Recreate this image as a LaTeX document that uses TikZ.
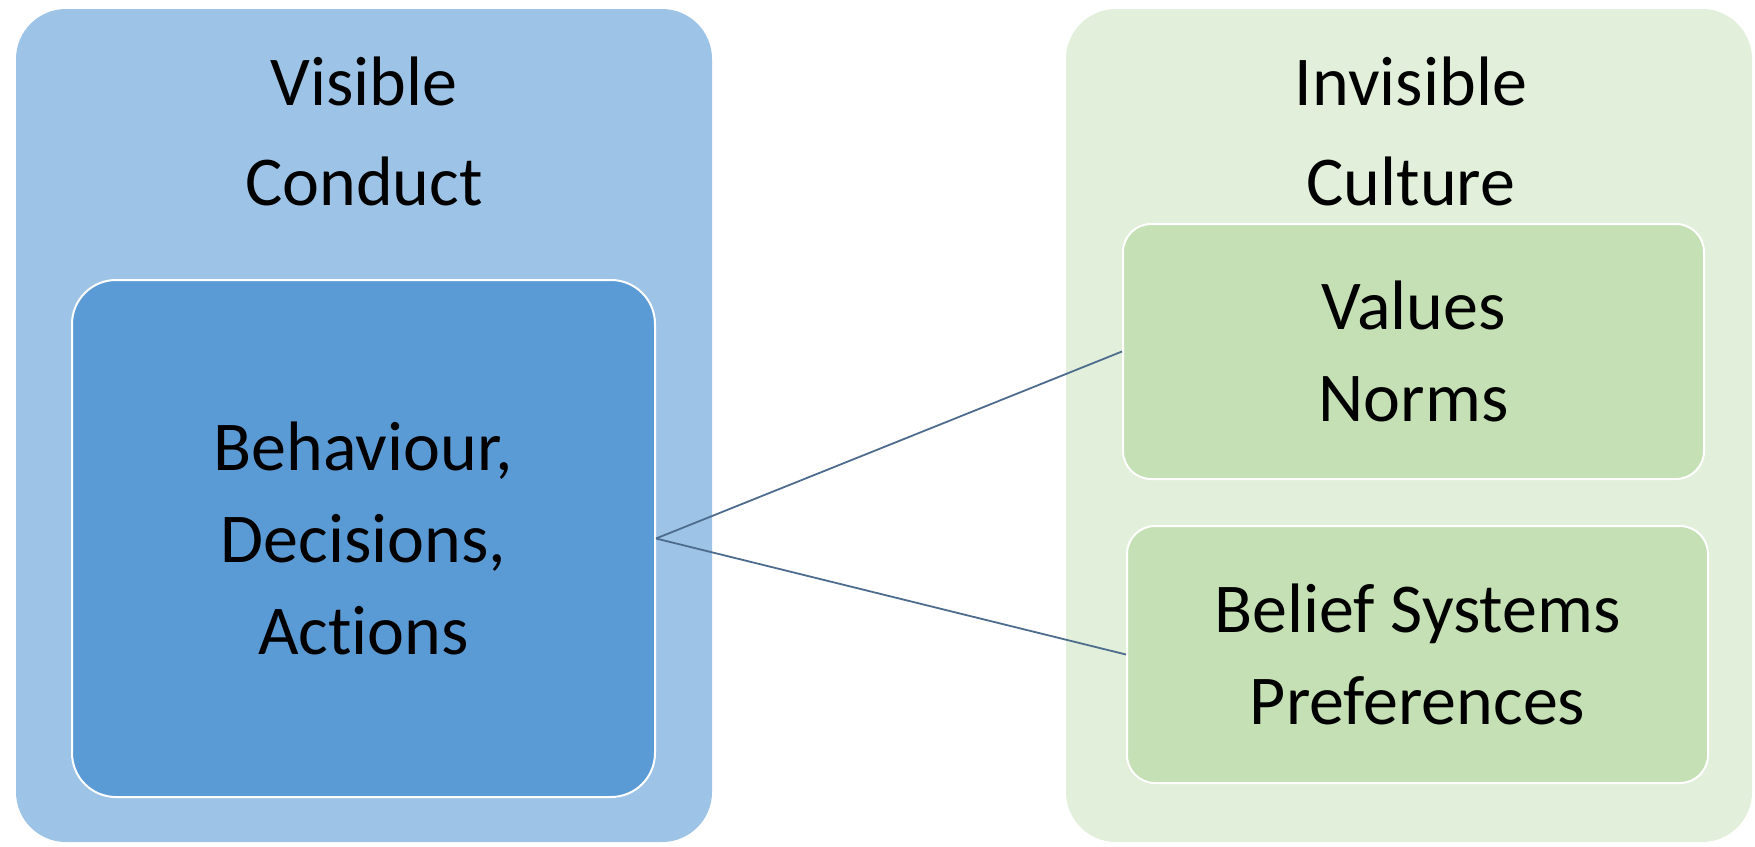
\documentclass[tikz,border=0pt]{standalone}
\usepackage{fontspec}
\setmainfont[Ligatures=NoCommon]{Carlito}
\definecolor{outerblue}{RGB}{157,195,230}
\definecolor{innerblue}{RGB}{91,155,213}
\definecolor{outergreen}{RGB}{226,239,218}
\definecolor{innergreen}{RGB}{197,224,180}
\definecolor{linkline}{RGB}{78,108,142}
\begin{document}
\begin{tikzpicture}[x=0.5pt, y=-0.5pt,
    outerbox/.style={rectangle, rounded corners=25pt, inner sep=0pt},
    innerbox/.style={rectangle, draw=white, line width=1pt, inner sep=0pt, align=center,
      font=\fontsize{35}{46}\selectfont},
    titletext/.style={align=center, font=\fontsize{35}{50}\selectfont},
    link/.style={draw=linkline, line width=0.9pt}]

    \useasboundingbox (0,0) rectangle (1755,846);

    % left side
    \node[outerbox, fill=outerblue, minimum width=348pt, minimum height=416.5pt] (visible) at (364,425.5) {};
    \node[titletext] (visibletitle) at (364,131) {Visible\\Conduct};
    \node[innerbox, fill=innerblue, rounded corners=22pt, minimum width=291.5pt, minimum height=258.5pt]
      (conduct) at (363.5,538.5) {Behaviour,\\Decisions,\\Actions};

    % right side
    \node[outerbox, fill=outergreen, minimum width=343pt, minimum height=416.5pt] (invisible) at (1409,425.5) {};
    \node[titletext] (invisibletitle) at (1411,131) {Invisible\\Culture};
    \node[innerbox, fill=innergreen, rounded corners=14pt, minimum width=290.5pt, minimum height=127.5pt]
      (values) at (1413.5,351.5) {Values\\Norms};
    \node[innerbox, fill=innergreen, rounded corners=14pt, minimum width=290.5pt, minimum height=128.5pt]
      (beliefs) at (1417.5,654.5) {Belief Systems\\Preferences};

    \draw[link] (conduct.east) -- (values.west);
    \draw[link] (conduct.east) -- (beliefs.west);

  \end{tikzpicture}
\end{document}
